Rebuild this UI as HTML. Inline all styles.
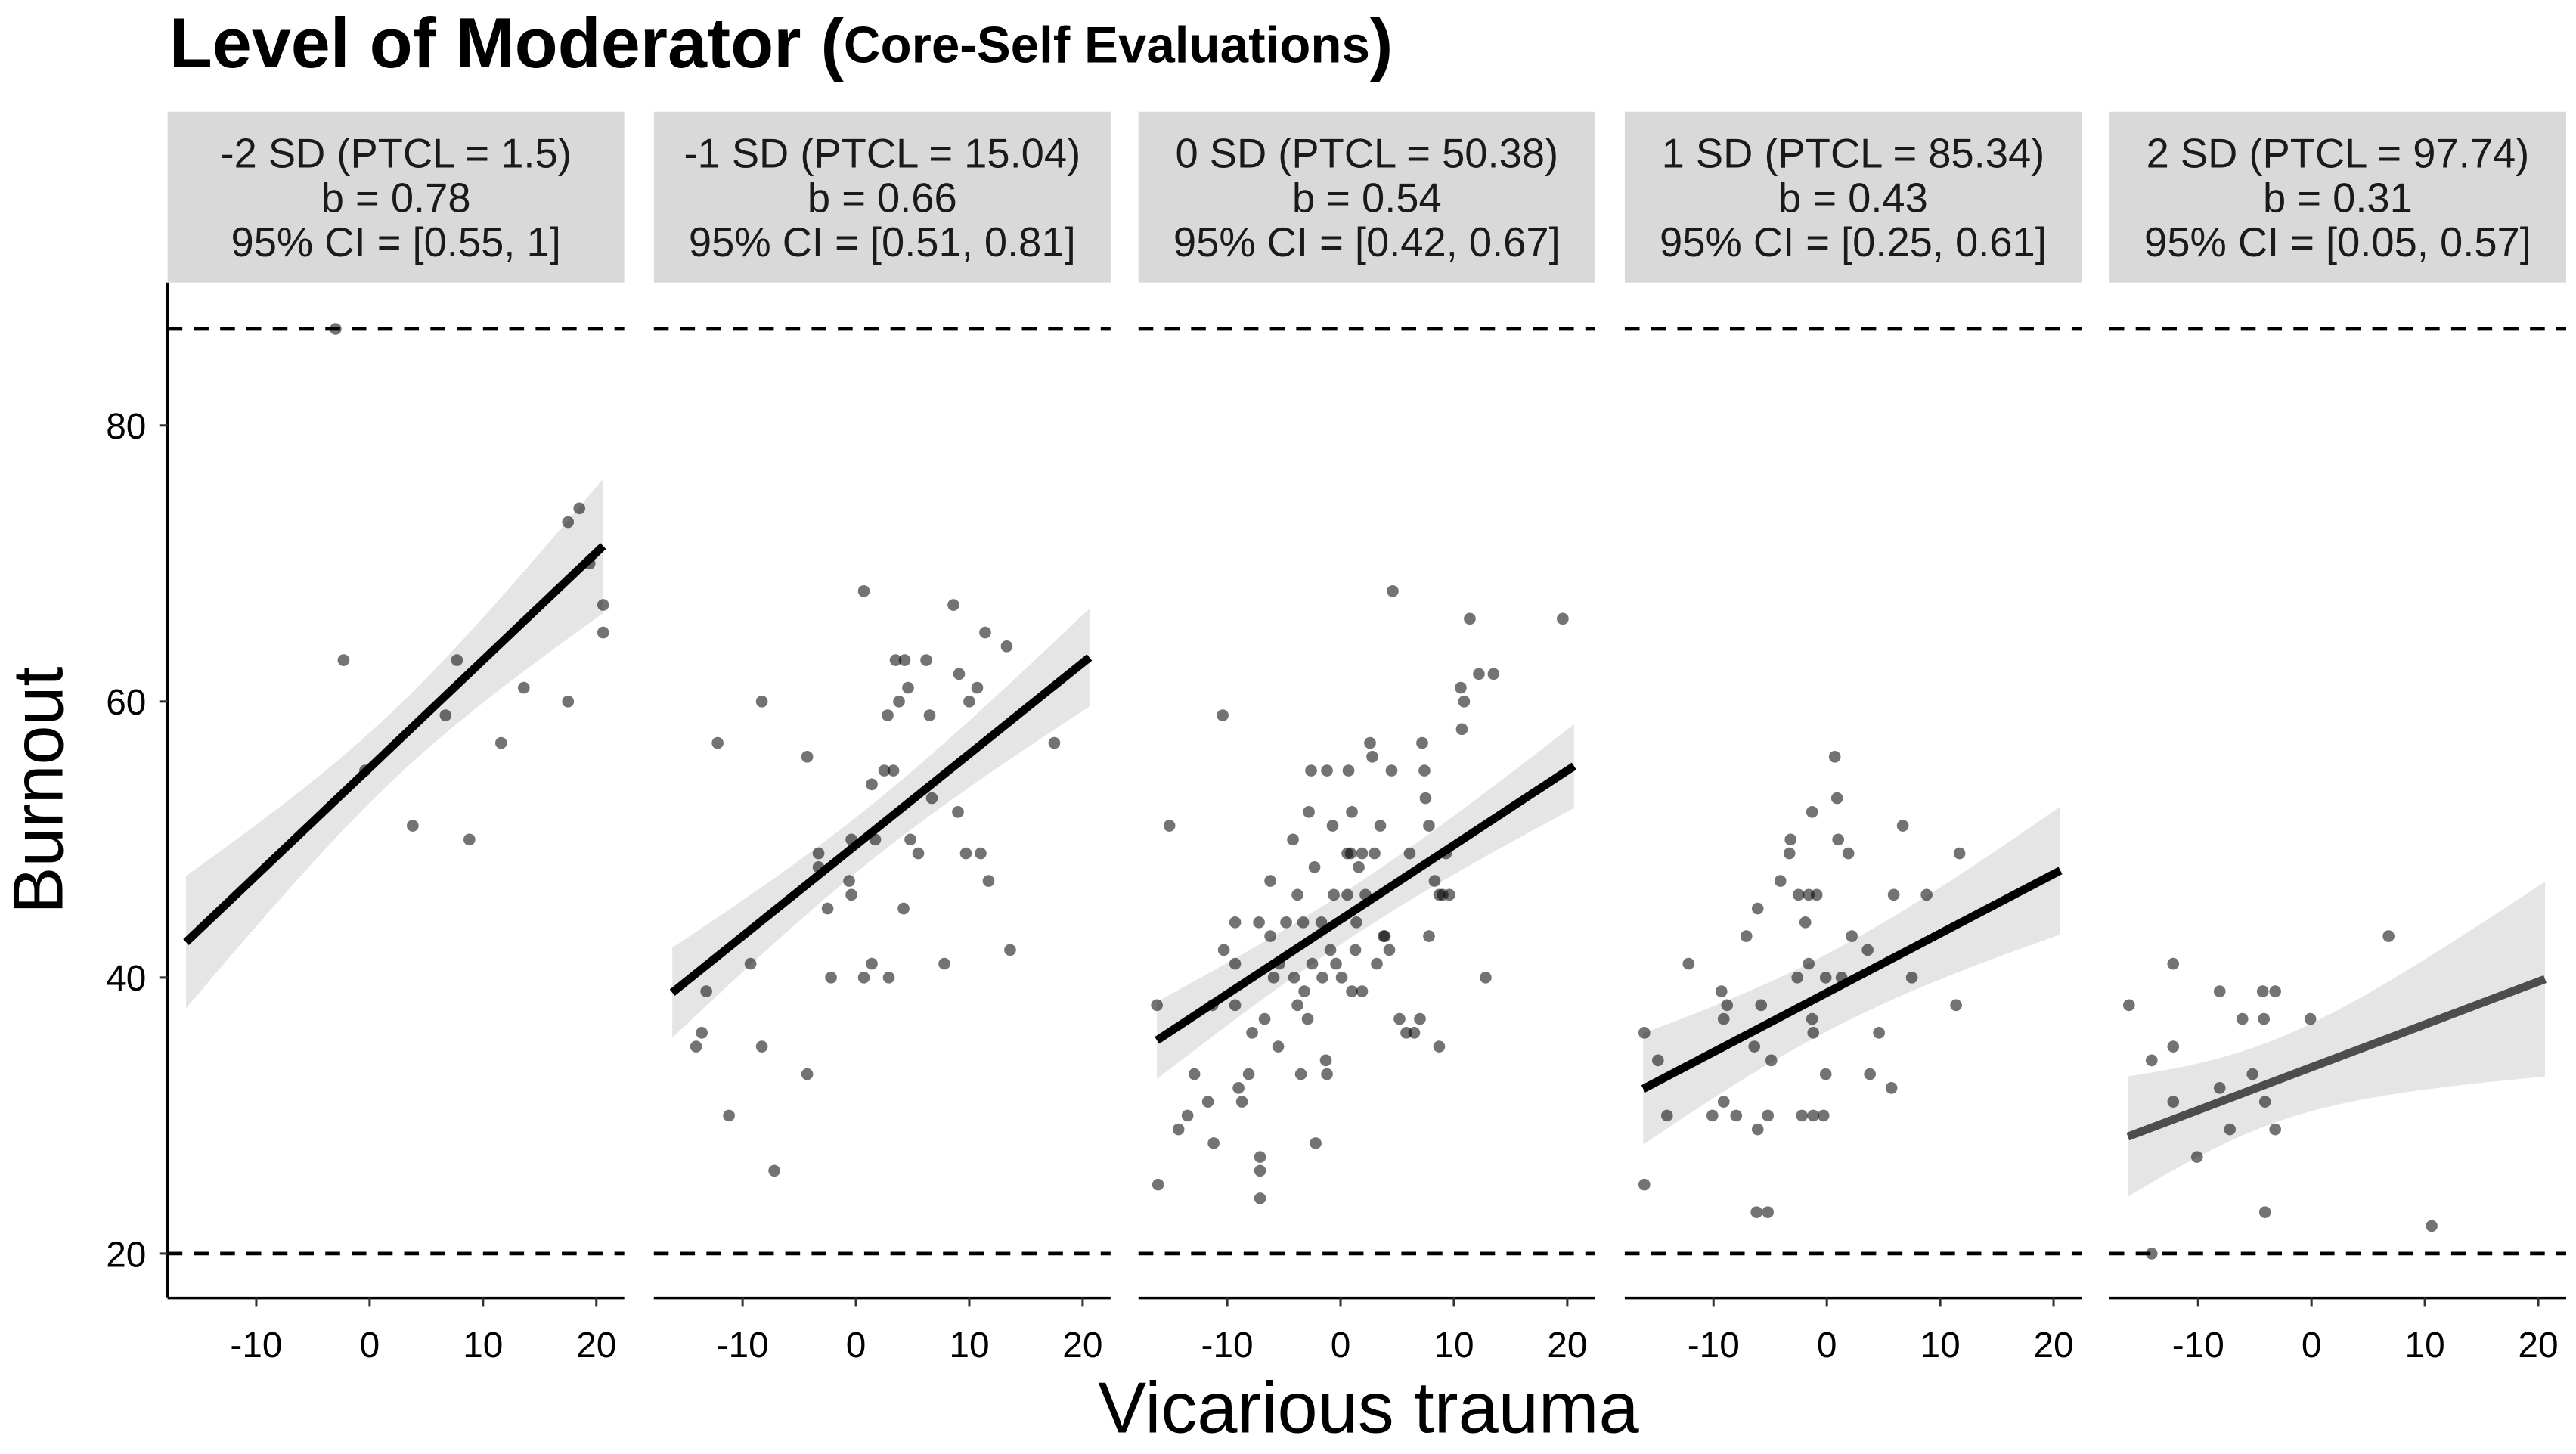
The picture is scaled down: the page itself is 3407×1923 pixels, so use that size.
<!DOCTYPE html>
<html><head><meta charset="utf-8"><style>
html,body{margin:0;padding:0;background:#fff}
svg{display:block}
text{font-family:"Liberation Sans",Arial,sans-serif}
</style></head><body>
<svg id="chart" width="3407" height="1923" viewBox="0 0 1568 885" preserveAspectRatio="none" xmlns="http://www.w3.org/2000/svg">
<text x="103" y="41" font-size="43" font-weight="bold">Level of Moderator <tspan font-size="42">(</tspan><tspan font-size="31" dy="-3">Core-Self Evaluations</tspan><tspan font-size="42" dy="3">)</tspan></text>
<text transform="translate(38,481) rotate(-90)" text-anchor="middle" font-size="43">Burnout</text>
<text x="833" y="872" text-anchor="middle" font-size="44">Vicarious trauma</text>
<g id="panels"></g>
</svg>
<script>
const panelLabels1 = ["-2 SD (PTCL = 1.5)","-1 SD (PTCL = 15.04)","0 SD (PTCL = 50.38)","1 SD (PTCL = 85.34)","2 SD (PTCL = 97.74)"];
const panelLabels2 = ["b = 0.78","b = 0.66","b = 0.54","b = 0.43","b = 0.31"];
const panelLabels3 = ["95% CI = [0.55, 1]","95% CI = [0.51, 0.81]","95% CI = [0.42, 0.67]","95% CI = [0.25, 0.61]","95% CI = [0.05, 0.57]"];
const slopes = [0.78,0.66,0.54,0.43,0.31];
const ciLow = [0.55,0.51,0.42,0.25,0.05];
const ciHigh = [1,0.81,0.67,0.61,0.57];
const intercepts = [55.2,49.6,44.2,38.9,33.5];
const bandCenter = [2,1,1,0,-4];
const bandHalfCenter = [2.5,2,1.8,2.8,3];
const xTicks = [-10,0,10,20];
const yTicks = [20,40,60,80];
const refLines = [87,20];
const fitRange = [-16.2,20.6];
const p1x = [-3,-2.3,-0.4,3.8,6.7,7.7,8.8,11.6,13.6,17.5,17.5,18.5,19.4,20.6,20.6];
const p1y = [87,63,55,51,59,63,50,57,61,60,73,74,70,67,65];
const p2x = [-12.2,-13.2,-13.6,-14.1,-11.2,-8.3,-9.3,-8.3,-7.2,-4.3,-4.3,-3.3,-3.3,-2.5,-2.2,-0.6,-0.4,-0.4,0.7,0.7,1.4,1.7,1.4,2.5,2.8,2.9,3.5,4.3,4.2,3.8,3.3,4.6,4.8,5.5,6.2,6.5,6.7,7.8,8.6,9.0,9.1,9.7,10,10.7,11,11.4,11.7,13.3,13.6,17.5];
const p2y = [57,39,36,35,30,60,41,35,26,56,33,48,49,45,40,47,50,46,68,40,41,50,54,55,59,40,63,63,45,60,55,61,50,49,63,59,53,41,67,52,62,49,60,61,49,65,47,64,42,57];
const p3x = [-15.1,-16.2,-16.1,-14.3,-13.5,-12.9,-11.7,-11.3,-11.2,-10.4,-10.3,-9.3,-9.3,-9.3,-9,-8.7,-8.1,-7.8,-7.2,-7.1,-7.1,-7.1,-6.7,-6.2,-6.2,-5.9,-5.5,-5.4,-4.8,-4.2,-4.1,-3.8,-3.8,-3.5,-3.3,-3.2,-2.9,-2.8,-2.6,-2.5,-2.3,-2.2,-1.7,-1.6,-1.3,-1.2,-1.2,-0.9,-0.7,-0.6,-0.4,0.1,0.6,0.6,0.7,0.9,1,1,1.3,1.4,1.6,1.9,1.9,2.2,2.6,2.8,3,3.2,3.5,3.8,3.9,4.3,4.5,4.6,5.2,5.8,6.1,6.5,7,7.2,7.4,7.5,7.8,7.8,8.3,8.7,8.7,9,9.3,9.6,10.6,10.7,10.9,11.4,12.2,12.8,13.5,19.6];
const p3y = [51,38,25,29,30,33,31,38,28,59,42,44,41,38,32,31,33,36,44,27,26,24,37,47,43,40,35,41,44,50,40,46,38,33,44,39,37,52,55,41,48,28,44,40,34,33,55,42,51,46,41,40,49,46,55,49,39,52,42,44,48,49,39,46,57,56,49,41,51,43,43,42,55,68,37,36,49,36,37,57,55,53,51,43,47,35,46,46,49,46,61,58,60,66,62,40,62,66];
const p4x = [-16.1,-16.1,-14.9,-14.1,-12.2,-10.1,-9.3,-9.1,-9.1,-8.8,-8,-7.1,-6.1,-6.4,-6.2,-5.2,-5.2,-5.8,-6.1,-4.9,-4.1,-3.3,-3.2,-2.6,-2.5,-2.2,-1.9,-1.6,-1.6,-1.3,-1.3,-1.2,-1.2,-0.9,-0.3,-0.1,-0.1,0.7,0.9,1,1.3,1.9,2.2,3.6,3.8,4.6,5.7,5.9,6.7,7.5,8.8,11.4,11.7];
const p4y = [25,36,34,30,41,30,39,37,31,38,30,43,45,35,23,23,30,38,29,34,47,49,50,40,46,30,44,46,41,52,37,36,30,46,30,33,40,56,53,50,40,49,43,42,33,36,32,46,51,40,46,38,49];
const p5x = [-16.1,-14.1,-14.1,-12.2,-12.2,-12.2,-10.1,-8.1,-8.1,-7.2,-6.1,-5.2,-4.3,-4.2,-4.1,-4.1,-3.2,-3.2,-0.1,6.8,10.6];
const p5y = [38,34,20,41,31,35,27,39,32,29,37,33,39,37,23,31,39,29,37,43,22];
const panelX = [p1x,p2x,p3x,p4x,p5x];
const panelY = [p1y,p2y,p3y,p4y,p5y];
const lineColors = ["#000","#000","#000","#000","#4d4d4d"];

const NS = "http://www.w3.org/2000/svg";
const panelLefts = [102,398,693,989,1284];
const panelW = 278, plotTop = 172, plotBottom = 790;
function xs(v, i){ return panelLefts[i] + 123 + v*6.9; }
function ys(v){ return 259 + (80 - v)*8.4; }
function mk(tag, attrs, parent){ const e=document.createElementNS(NS,tag); for(const k in attrs) e.setAttribute(k,attrs[k]); parent.appendChild(e); return e; }
const root = document.getElementById('panels');

const yax = mk('line',{x1:102,x2:102,y1:plotTop,y2:plotBottom,stroke:'#000','stroke-width':1.6},root);


yTicks.forEach(t=>{
  const tk=mk('line',{x1:97,x2:102,y1:ys(t),y2:ys(t),stroke:'#333','stroke-width':1.4},root);
  
  
  const tl=mk('text',{x:89,y:ys(t)+8,'text-anchor':'end','font-size':22,fill:'#000'},root);
  tl.textContent=t;
  
  
});

for(let i=0;i<5;i++){
  const L=panelLefts[i];
  const g=mk('g',{},root);
  
  
  const strip=mk('rect',{x:L,y:68,width:panelW,height:104,fill:'#d9d9d9'},g);
  
  
  [panelLabels1[i],panelLabels2[i],panelLabels3[i]].forEach((s,j)=>{
    const t=mk('text',{x:L+panelW/2,y:102+j*27,'text-anchor':'middle','font-size':25,fill:'#1a1a1a'},g);
    t.textContent=s;
    
    
  });
  refLines.forEach(r=>{
    const d=mk('line',{x1:L,x2:L+panelW,y1:ys(r),y2:ys(r),stroke:'#000','stroke-width':2.2,'stroke-dasharray':'9,7'},g);
    
    
  });
  const b=slopes[i], a=intercepts[i];
  const se=(ciHigh[i]-ciLow[i])/3.92;
  const up=[],lo=[];
  for(let k=0;k<=40;k++){
    const xv=fitRange[0]+(fitRange[1]-fitRange[0])*k/40;
    const h=Math.sqrt(bandHalfCenter[i]**2 + (1.96*se*(xv-bandCenter[i]))**2);
    up.push(xs(xv,i)+','+ys(a+b*xv+h)); lo.unshift(xs(xv,i)+','+ys(a+b*xv-h));
  }
  const rib=mk('polygon',{points:up.concat(lo).join(' '),fill:'#999','fill-opacity':0.25},g);
  
  
  const X=panelX[i], Y=panelY[i];
  X.forEach((xv,k)=>{
    const c=mk('circle',{cx:xs(xv,i),cy:ys(Y[k]),r:3.6,fill:'#000','fill-opacity':0.55},g);
    
    
  });
  const ln=mk('line',{x1:xs(fitRange[0],i),y1:ys(a+b*fitRange[0]),x2:xs(fitRange[1],i),y2:ys(a+b*fitRange[1]),stroke:lineColors[i],'stroke-width':5},g);
  
  
  const xa=mk('line',{x1:L,x2:L+panelW,y1:plotBottom,y2:plotBottom,stroke:'#000','stroke-width':1.6},g);
  
  
  xTicks.forEach(t=>{
    const tk=mk('line',{x1:xs(t,i),x2:xs(t,i),y1:plotBottom,y2:plotBottom+5,stroke:'#333','stroke-width':1.4},g);
    
    
    const tl=mk('text',{x:xs(t,i),y:826,'text-anchor':'middle','font-size':22,fill:'#000'},g);
    tl.textContent=t;
    
    
  });
}
</script>
</body></html>
